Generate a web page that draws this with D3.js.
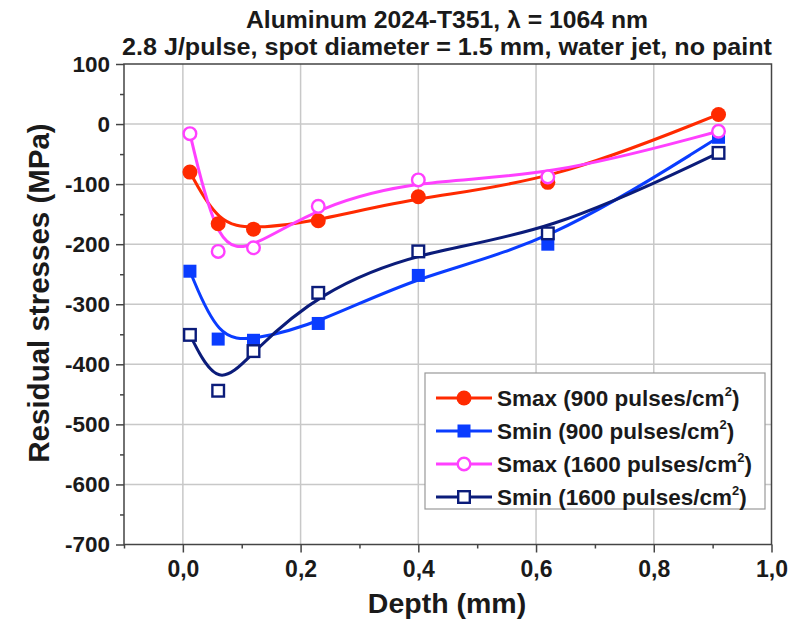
<!DOCTYPE html>
<html><head><meta charset="utf-8">
<script src="https://cdn.jsdelivr.net/npm/d3@7"></script>
<style>
body{margin:0;background:#fff;}
text{font-family:"Liberation Sans",Arial,sans-serif;font-weight:bold;fill:#1a1a1a;}
</style></head>
<body><svg id="c" width="800" height="623"></svg>
<script>
const depth = [0.012, 0.06, 0.12, 0.23, 0.40, 0.62, 0.91];
const smax900 = [-80, -166, -175, -161, -121, -97, 16];
const smin900 = [-245, -358, -360, -332, -252, -200, -22];
const smax1600 = [-16, -212, -206, -137, -93, -88, -12];
const smin1600 = [-351, -444, -378, -281, -212, -182, -48];
const seriesNames = ["Smax (900 pulses/cm", "Smin (900 pulses/cm", "Smax (1600 pulses/cm", "Smin (1600 pulses/cm"];
const xTicks = [0, 0.2, 0.4, 0.6, 0.8, 1.0];
const yTicks = [100, 0, -100, -200, -300, -400, -500, -600, -700];
const titleLines = ["Aluminum 2024-T351, λ = 1064 nm", "2.8 J/pulse, spot diameter = 1.5 mm, water jet, no paint"];

const svg = d3.select("#c");
const L = 124, R = 771.5, T = 64, B = 544.5;
const x = d3.scaleLinear().domain([-0.1, 1.0]).range([L, R]);
const y = d3.scaleLinear().domain([-700, 100]).range([B, T]);

// grid
const g = svg.append("g");
g.selectAll(".gx").data(xTicks.filter(d => d < 1)).enter().append("line")
  .attr("x1", d => x(d)).attr("x2", d => x(d)).attr("y1", T).attr("y2", B)
  .attr("stroke", "#c8c8c8").attr("stroke-width", 1.5);
g.selectAll(".gy").data(yTicks.filter(d => d < 100 && d > -700)).enter().append("line")
  .attr("y1", d => y(d)).attr("y2", d => y(d)).attr("x1", L).attr("x2", R)
  .attr("stroke", "#c8c8c8").attr("stroke-width", 1.5);

// frame
svg.append("rect").attr("x", L).attr("y", T).attr("width", R - L).attr("height", B - T)
  .attr("fill", "none").attr("stroke", "#444").attr("stroke-width", 1.5);

// axes
const xAxis = d3.axisBottom(x).tickValues(xTicks).tickSize(8).tickPadding(8)
  .tickFormat(d => d3.format(".1f")(d).replace(".", ","));
const gx = svg.append("g").attr("transform", `translate(0,${B})`).call(xAxis);
gx.select(".domain").remove();
gx.selectAll(".tick line").attr("stroke", "#444").attr("stroke-width", 1.5);
gx.selectAll(".tick text").attr("font-size", 23).attr("fill", "#1a1a1a");
const xMinor = d3.axisBottom(x).tickValues([-0.1, 0.1, 0.3, 0.5, 0.7, 0.9]).tickSize(4).tickFormat("");
const gxm = svg.append("g").attr("transform", `translate(0,${B})`).call(xMinor);
gxm.select(".domain").remove();
gxm.selectAll(".tick line").attr("stroke", "#444").attr("stroke-width", 1.5);

const yAxis = d3.axisLeft(y).tickValues(yTicks).tickSize(8).tickPadding(6)
  .tickFormat(d => String(d));
const gy = svg.append("g").attr("transform", `translate(${L},0)`).call(yAxis);
gy.select(".domain").remove();
gy.selectAll(".tick line").attr("stroke", "#444").attr("stroke-width", 1.5);
gy.selectAll(".tick text").attr("font-size", 22.5).attr("fill", "#1a1a1a");
const yMinor = d3.axisLeft(y).tickValues(d3.range(-650, 100, 100)).tickSize(4).tickFormat("");
const gym = svg.append("g").attr("transform", `translate(${L},0)`).call(yMinor);
gym.select(".domain").remove();
gym.selectAll(".tick line").attr("stroke", "#444").attr("stroke-width", 1.5);

// titles
svg.append("text").attr("x", 447).attr("y", 28).attr("text-anchor", "middle").attr("font-size", 23)
  .attr("textLength", 402).attr("lengthAdjust", "spacingAndGlyphs").text(titleLines[0]);
svg.append("text").attr("x", 447).attr("y", 55).attr("text-anchor", "middle").attr("font-size", 23)
  .attr("textLength", 650).attr("lengthAdjust", "spacingAndGlyphs").text(titleLines[1]);
svg.append("text").attr("x", 447).attr("y", 613).attr("text-anchor", "middle").attr("font-size", 28.5).text("Depth (mm)");
svg.append("text").attr("transform", "translate(49,293) rotate(-90)").attr("text-anchor", "middle").attr("font-size", 29.5).text("Residual stresses (MPa)");

// series
const series = [
  {vals: smax900, color: "#ff2a00", shape: "circle", filled: true},
  {vals: smin900, color: "#0a3cff", shape: "square", filled: true},
  {vals: smax1600, color: "#ff40ff", shape: "circle", filled: false},
  {vals: smin1600, color: "#0b1c7a", shape: "square", filled: false}
];
const line = d3.line().x(d => x(d[0])).y(d => y(d[1])).curve(d3.curveBasis);
series.forEach(s => {
  svg.append("path").datum(depth.map((d, i) => [d, s.vals[i]]))
    .attr("d", line).attr("fill", "none").attr("stroke", s.color).attr("stroke-width", 3);
});
function marker(sel, s, cx, cy) {
  if (s.shape === "circle") {
    sel.append("circle").attr("cx", cx).attr("cy", cy).attr("r", s.filled ? 7.5 : 6.3)
      .attr("fill", s.filled ? s.color : "#fff").attr("stroke", s.color).attr("stroke-width", s.filled ? 0 : 2.4);
  } else {
    const h = s.filled ? 6.5 : 5.8;
    sel.append("rect").attr("x", cx - h).attr("y", cy - h).attr("width", 2 * h).attr("height", 2 * h)
      .attr("fill", s.filled ? s.color : "#fff").attr("stroke", s.color).attr("stroke-width", s.filled ? 0 : 2.4);
  }
}
series.forEach(s => {
  const gm = svg.append("g");
  depth.forEach((d, i) => marker(gm, s, x(d), y(s.vals[i])));
});

// legend
const lg = svg.append("g");
lg.append("rect").attr("x", 425).attr("y", 373).attr("width", 340).attr("height", 136)
  .attr("fill", "#fff").attr("stroke", "#999").attr("stroke-width", 1.2);
series.forEach((s, i) => {
  const ly = 398 + i * 33;
  lg.append("line").attr("x1", 436).attr("x2", 492).attr("y1", ly).attr("y2", ly).attr("stroke", s.color).attr("stroke-width", 3);
  marker(lg, s, 464, ly);
  const t = lg.append("text").attr("x", 497).attr("y", ly + 8).attr("font-size", 22.5);
  t.append("tspan").text(seriesNames[i]);
  t.append("tspan").attr("font-size", 13).attr("dy", -10).text("2");
  t.append("tspan").attr("dy", 10).text(")");
});
</script></body></html>
